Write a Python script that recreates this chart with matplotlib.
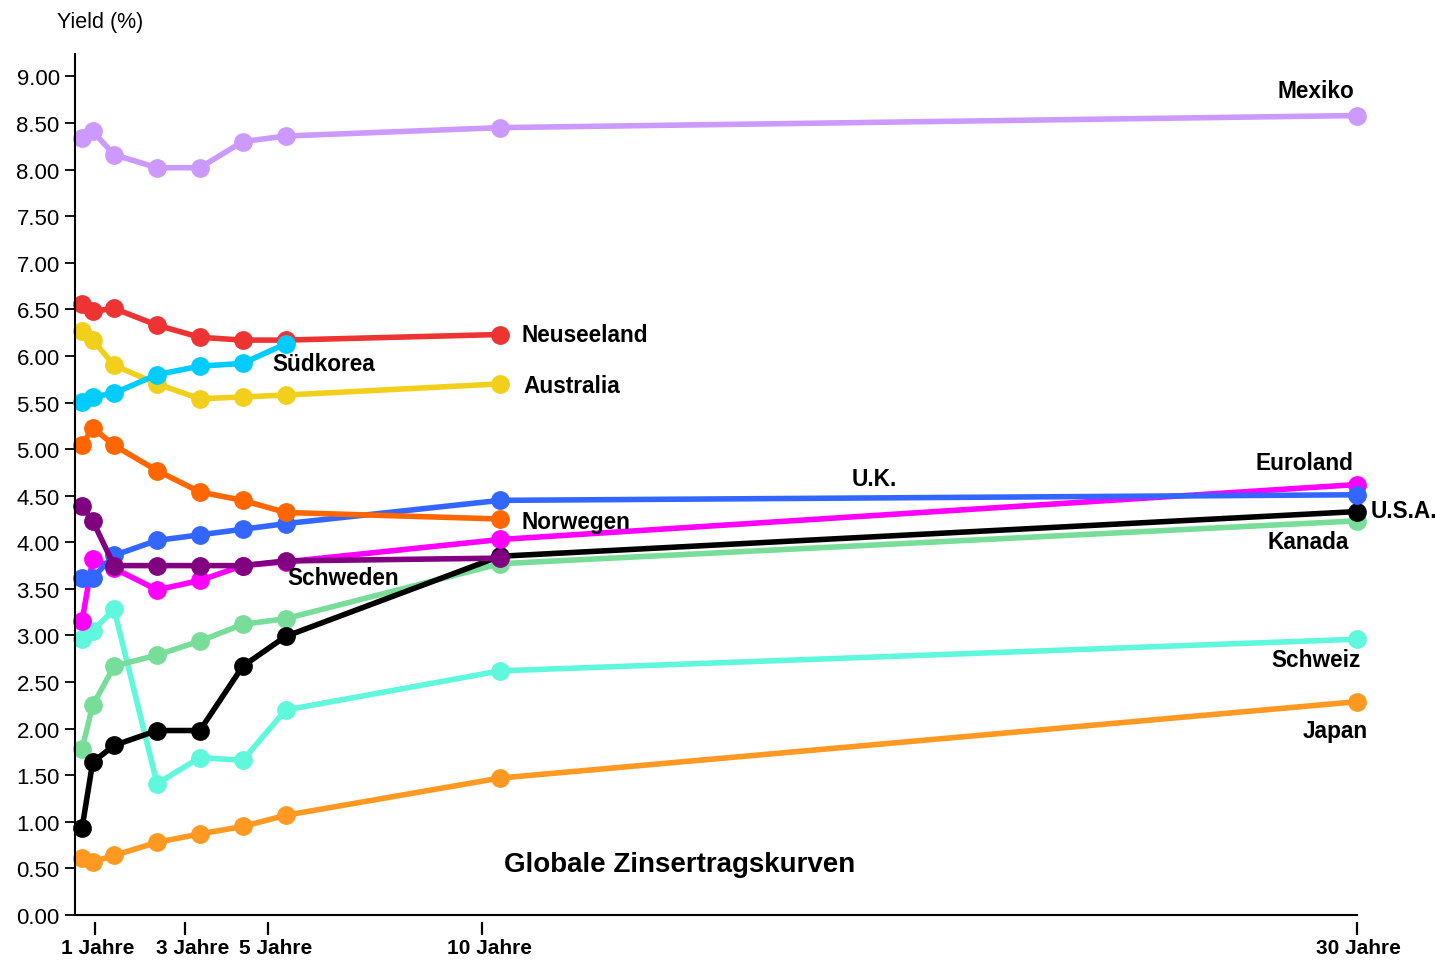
import matplotlib.pyplot as plt
import matplotlib.transforms as mtransforms
import numpy as np

plt.rcParams['font.family'] = ['Liberation Sans', 'DejaVu Sans']

# Maturities in years
maturities = [0.25, 0.5, 1, 2, 3, 4, 5, 10, 30]

# Yields in percent (None = no quote for that maturity)
mexiko = [8.34, 8.41, 8.16, 8.02, 8.02, 8.30, 8.36, 8.45, 8.58]
neuseeland = [6.56, 6.48, 6.51, 6.33, 6.20, 6.17, 6.17, 6.23, None]
australia = [6.27, 6.17, 5.90, 5.70, 5.54, 5.56, 5.58, 5.70, None]
suedkorea = [5.51, 5.56, 5.60, 5.80, 5.89, 5.92, 6.13, None, None]
norwegen = [5.04, 5.23, 5.04, 4.77, 4.54, 4.45, 4.32, 4.25, None]
schweden = [4.39, 4.23, 3.75, 3.75, 3.75, 3.75, 3.80, 3.83, None]
uk = [3.62, 3.62, 3.86, 4.02, 4.08, 4.14, 4.20, 4.45, 4.51]
euroland = [3.15, 3.82, 3.72, 3.49, 3.59, 3.75, 3.79, 4.03, 4.62]
schweiz = [2.96, 3.05, 3.28, 1.41, 1.69, 1.66, 2.20, 2.62, 2.96]
kanada = [1.78, 2.25, 2.67, 2.79, 2.94, 3.12, 3.18, 3.77, 4.23]
usa = [0.93, 1.64, 1.82, 1.98, 1.98, 2.67, 2.99, 3.85, 4.33]
japan = [0.61, 0.57, 0.64, 0.78, 0.87, 0.95, 1.07, 1.47, 2.29]

tick_pos = [0.553, 2.65, 4.59, 9.58, 30]
tick_labels = ['1 Jahre', '3 Jahre', '5 Jahre', '10 Jahre', '30 Jahre']

# draw order: first entry at the bottom
series = [
    (japan, '#ff9922'),
    (schweiz, '#5ff8dc'),
    (kanada, '#77dd99'),
    (usa, '#000000'),
    (euroland, '#ff00ff'),
    (uk, '#3366ff'),
    (norwegen, '#ff6600'),
    (schweden, '#800080'),
    (australia, '#f2cf1a'),
    (neuseeland, '#ee3333'),
    (suedkorea, '#00ccff'),
    (mexiko, '#cc99ff'),
]

fig = plt.figure(figsize=(14.36, 9.62), dpi=100)
ax = fig.add_axes([0.0522, 0.0478, 0.893, 0.895])

for vals, col in series:
    y = np.array([np.nan if v is None else v for v in vals])
    ax.plot(maturities, y, color=col, lw=4, marker='o', ms=12.5,
            solid_capstyle='round', clip_on=False)

ax.set_xlim(0.086, 30)
ax.set_ylim(0, 9.24)
ax.set_yticks(np.arange(0, 9.01, 0.5))
ax.set_yticklabels([f'{v:.2f}' for v in np.arange(0, 9.01, 0.5)])
ax.tick_params(axis='y', direction='out', length=7, width=1.3,
               labelsize=16, pad=4)
ax.tick_params(axis='x', bottom=False, labelbottom=False)

for s in ['top', 'right']:
    ax.spines[s].set_visible(False)
for s in ['left', 'bottom']:
    ax.spines[s].set_linewidth(1.5)

# maturity ticks sit slightly below the axis line
sec = ax.secondary_xaxis(-0.008)
sec.spines['bottom'].set_visible(False)
sec.set_xticks(tick_pos)
sec.set_xticklabels(tick_labels, fontsize=15, fontweight='bold')
sec.tick_params(axis='x', direction='out', length=9.5, width=1.6, pad=2)
shifts = [3, 8, 8, 8, 1]
for lbl, dx in zip(sec.get_xticklabels(), shifts):
    lbl.set_transform(lbl.get_transform() +
                      mtransforms.ScaledTranslation(dx / 100, 0, fig.dpi_scale_trans))

fig.text(0.0397, 0.977, 'Yield (%)', fontsize=15.5, ha='left', va='center')

lab = dict(fontsize=16.3, fontweight='bold', va='center')
ax.text(29.04, 8.85, 'Mexiko', ha='center', **lab)
ax.text(10.5, 6.23, 'Neuseeland', ha='left', **lab)
ax.text(4.7, 5.92, 'Südkorea', ha='left', **lab)
ax.text(10.55, 5.68, 'Australia', ha='left', **lab)
ax.text(18.73, 4.68, 'U.K.', ha='center', **lab)
ax.text(28.76, 4.86, 'Euroland', ha='center', **lab)
ax.text(30.3, 4.34, 'U.S.A.', ha='left', **lab)
ax.text(10.5, 4.22, 'Norwegen', ha='left', **lab)
ax.text(28.85, 4.01, 'Kanada', ha='center', **lab)
ax.text(5.05, 3.62, 'Schweden', ha='left', **lab)
ax.text(29.04, 2.74, 'Schweiz', ha='center', **lab)
ax.text(29.48, 1.985, 'Japan', ha='center', **lab)
ax.text(14.2, 0.55, 'Globale Zinsertragskurven', ha='center',
        fontsize=20, fontweight='bold', va='center')

fig.savefig('out.png', dpi=100)
